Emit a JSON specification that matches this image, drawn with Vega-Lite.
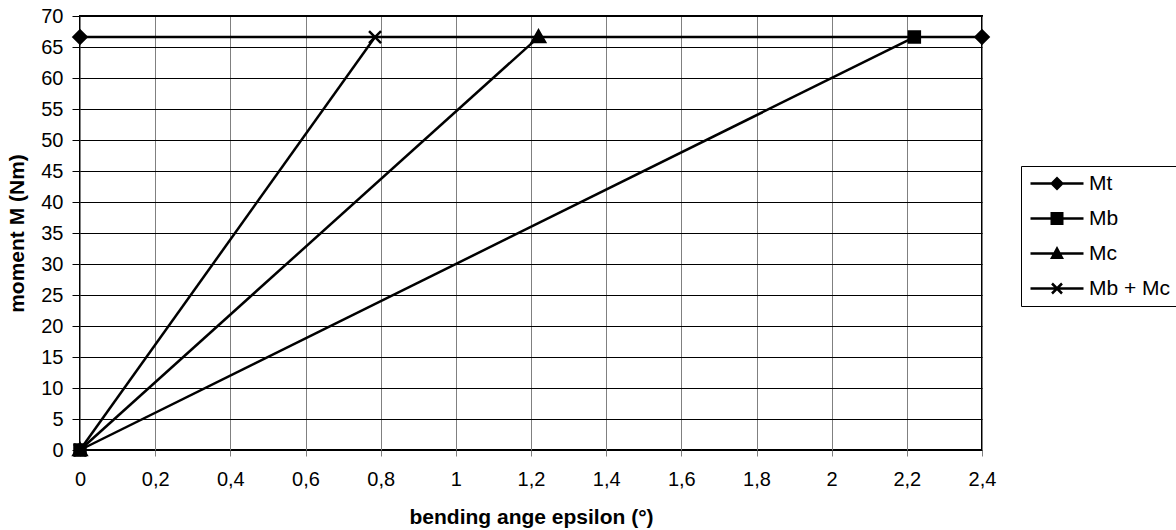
{
  "$schema": "https://vega.github.io/schema/vega-lite/v6.json",
  "autosize": {"type": "none"},
  "width": 902,
  "height": 434,
  "padding": {"left": 80, "top": 16, "right": 194, "bottom": 80},
  "background": "white",
  "config": {
    "font": "Liberation Sans",
    "view": {"stroke": "black", "strokeWidth": 2},
    "axis": {
      "labelFont": "Liberation Sans",
      "titleFont": "Liberation Sans",
      "labelFontSize": 20,
      "titleFontSize": 21,
      "titleFontWeight": "bold",
      "labelColor": "black",
      "titleColor": "black",
      "domain": false
    },
    "legend": {
      "labelFont": "Liberation Sans",
      "labelFontSize": 21,
      "labelColor": "black"
    }
  },
  "data": {
    "values": [
      {"series": "Mt", "angle": 0, "moment": 66.6},
      {"series": "Mt", "angle": 2.4, "moment": 66.6},
      {"series": "Mb", "angle": 0, "moment": 0},
      {"series": "Mb", "angle": 2.22, "moment": 66.6},
      {"series": "Mc", "angle": 0, "moment": 0},
      {"series": "Mc", "angle": 1.22, "moment": 66.6},
      {"series": "Mb + Mc", "angle": 0, "moment": 0},
      {"series": "Mb + Mc", "angle": 0.785, "moment": 66.6}
    ]
  },
  "encoding": {
    "x": {
      "field": "angle",
      "type": "quantitative",
      "scale": {"domain": [0, 2.4], "nice": false, "zero": false},
      "axis": {
        "title": "bending ange epsilon (°)",
        "values": [0, 0.2, 0.4, 0.6, 0.8, 1, 1.2, 1.4, 1.6, 1.8, 2, 2.2, 2.4],
        "labelExpr": "replace(format(datum.value, '.1~f'), '.', ',')",
        "grid": true,
        "gridColor": "#808080",
        "gridWidth": 1,
        "gridOpacity": 1,
        "ticks": true,
        "tickColor": "#808080",
        "tickSize": 6,
        "labelPadding": 13,
        "titlePadding": 17,
        "labelFlush": false,
        "labelOverlap": false
      }
    },
    "y": {
      "field": "moment",
      "type": "quantitative",
      "scale": {"domain": [0, 70], "nice": false},
      "axis": {
        "title": "moment M (Nm)",
        "values": [0, 5, 10, 15, 20, 25, 30, 35, 40, 45, 50, 55, 60, 65, 70],
        "grid": true,
        "gridColor": "black",
        "gridWidth": 1,
        "gridOpacity": 1,
        "ticks": true,
        "tickColor": "black",
        "tickSize": 8,
        "labelPadding": 9,
        "titlePadding": 13,
        "labelFlush": false,
        "labelOverlap": false
      }
    }
  },
  "layer": [
    {
      "mark": {"type": "line", "color": "black", "strokeWidth": 2.5},
      "encoding": {"detail": {"field": "series", "type": "nominal"}}
    },
    {
      "mark": {"type": "point", "filled": true, "color": "black", "fill": "black", "stroke": "black", "size": 4, "opacity": 1, "strokeWidth": 2.5},
      "encoding": {
        "shape": {
          "field": "series",
          "type": "nominal",
          "scale": {
            "domain": ["Mt", "Mc", "Mb + Mc", "Mb"],
            "range": [
              "M-6.5,0L0,-6.5L6.5,0L0,6.5Z",
              "M0,-6.5L6.5,5L-6.5,5Z",
              "M-6,-6L6,6M-6,6L6,-6",
              "M-5.5,-5.5H5.5V5.5H-5.5Z"
            ]
          },
          "legend": null
        }
      }
    },
    {
      "mark": {"type": "point", "filled": true, "color": "black", "fill": "black", "size": 4, "opacity": 0},
      "encoding": {
        "shape": {
          "field": "series",
          "type": "nominal",
          "scale": {
            "domain": ["Mt", "Mb", "Mc", "Mb + Mc"],
            "range": [
              "M-8,-1.25H45V1.25H-8ZM11.5,0L18.5,-7L25.5,0L18.5,7Z",
              "M-8,-1.25H45V1.25H-8ZM12,-6.5H25V6.5H12Z",
              "M-8,-1.25H45V1.25H-8ZM18.5,-7.5L25.5,5.5L11.5,5.5Z",
              "M-8,-1.25H45V1.25H-8ZM14.38,-5.88L24.38,4.12L22.62,5.88L12.62,-4.12ZM12.62,4.12L22.62,-5.88L24.38,-4.12L14.38,5.88Z"
            ]
          },
          "legend": {
            "title": null,
            "orient": "none",
            "legendX": 941,
            "legendY": 150,
            "strokeColor": "black",
            "fillColor": "white",
            "padding": 7,
            "cornerRadius": 0,
            "symbolOpacity": 1,
            "symbolFillColor": "black",
            "symbolSize": 4,
            "labelOffset": 40,
            "rowPadding": 13,
            "encode": {
              "symbols": {
                "update": {
                  "fill": {"value": "black"},
                  "fillOpacity": {"value": 1},
                  "opacity": {"value": 1}
                }
              }
            }
          }
        }
      }
    }
  ],
  "resolve": {"scale": {"shape": "independent"}, "legend": {"shape": "independent"}}
}
